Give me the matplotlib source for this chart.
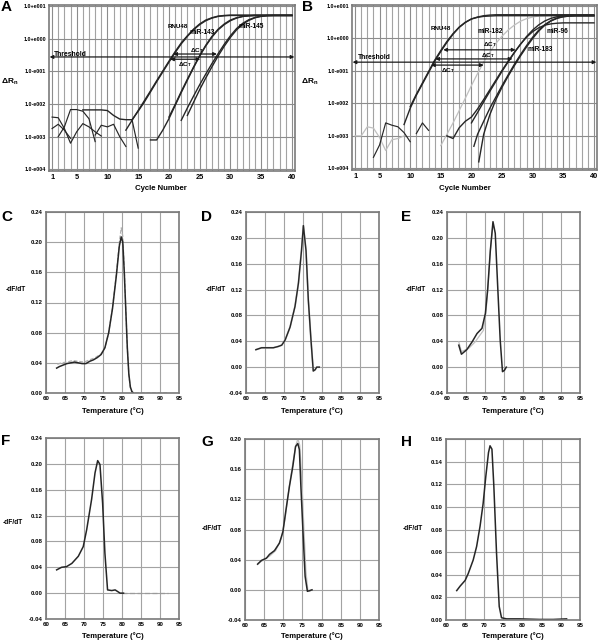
import numpy as np
import matplotlib
matplotlib.use("Agg")
import matplotlib.pyplot as plt
from matplotlib.ticker import NullLocator

plt.rcParams['font.family'] = ['Liberation Sans', 'DejaVu Sans']
plt.rcParams['font.weight'] = 'bold'
plt.rcParams['mathtext.fontset'] = 'custom'
plt.rcParams['mathtext.rm'] = 'Liberation Sans:bold'
plt.rcParams['mathtext.it'] = 'Liberation Sans:bold'
plt.rcParams['mathtext.bf'] = 'Liberation Sans:bold'

# ---------------- Data: amplification plots (log10 of delta Rn) ----------------
A_rnu48_1_c = list(range(6, 41))
A_rnu48_1_l = [-2.18, -2.18, -2.18, -2.18, -2.2, -2.35, -2.46, -2.48, -2.48, -2.22, -1.94, -1.63,
               -1.32, -1.02, -0.72, -0.43, -0.16, 0.07, 0.27, 0.43, 0.55, 0.63, 0.68, 0.7, 0.71,
               0.71, 0.71, 0.71, 0.71, 0.71, 0.71, 0.71, 0.71, 0.71, 0.71]
A_rnu48_2_c = list(range(13, 41))
A_rnu48_2_l = [-2.8, -2.5, -2.2, -1.9, -1.6, -1.29, -0.99, -0.69, -0.4, -0.13, 0.09, 0.29, 0.45,
               0.57, 0.64, 0.69, 0.71, 0.72, 0.72, 0.72, 0.72, 0.72, 0.72, 0.72, 0.72, 0.72, 0.72, 0.72]
A_mir143_1_c = list(range(17, 41))
A_mir143_1_l = [-3.1, -3.1, -2.8, -2.45, -2.05, -1.65, -1.27, -0.89, -0.53, -0.22, 0.05, 0.27,
                0.43, 0.55, 0.63, 0.68, 0.7, 0.71, 0.71, 0.71, 0.71, 0.71, 0.71, 0.71]
A_mir143_2_c = list(range(20, 41))
A_mir143_2_l = [-2.4, -2.02, -1.62, -1.24, -0.87, -0.52, -0.2, 0.07, 0.29, 0.45, 0.57, 0.64,
                0.68, 0.7, 0.71, 0.71, 0.71, 0.71, 0.71, 0.71, 0.71]
A_mir145_1_c = list(range(22, 41))
A_mir145_1_l = [-2.5, -2.12, -1.76, -1.41, -1.08, -0.76, -0.46, -0.17, 0.09, 0.31, 0.47, 0.58,
                0.65, 0.69, 0.71, 0.71, 0.71, 0.71, 0.71]
A_mir145_2_c = list(range(23, 41))
A_mir145_2_l = [-2.35, -1.95, -1.56, -1.2, -0.86, -0.53, -0.23, 0.04, 0.27, 0.44, 0.56, 0.64,
                0.68, 0.7, 0.71, 0.71, 0.71, 0.71]
A_noise = [
    ([1, 2, 3, 4, 5, 6, 7, 8, 9], [-2.4, -2.42, -2.75, -3.2, -2.85, -2.6, -2.7, -2.85, -2.98]),
    ([1, 2, 3, 4], [-2.75, -2.62, -2.8, -3.05]),
    ([2, 3, 4, 5, 6, 7, 8], [-3.0, -2.7, -2.17, -2.17, -2.22, -2.45, -3.15]),
    ([8, 9, 10, 11, 12, 13], [-2.95, -2.65, -2.7, -2.62, -3.0, -3.3]),
    ([14, 15], [-2.48, -3.35]),
]
A_threshold = -0.56

B_rnu48_1_c = list(range(9, 41))
B_rnu48_1_l = [-2.65, -2.15, -1.75, -1.4, -1.05, -0.7, -0.4, -0.12, 0.13, 0.34, 0.49, 0.6, 0.66,
               0.7, 0.72, 0.73, 0.73, 0.73, 0.73, 0.73, 0.73, 0.73, 0.73, 0.73, 0.73, 0.73, 0.73,
               0.73, 0.73, 0.73, 0.73, 0.73]
B_rnu48_2_c = list(range(10, 41))
B_rnu48_2_l = [-2.1, -1.72, -1.37, -1.02, -0.67, -0.37, -0.09, 0.15, 0.35, 0.5, 0.6, 0.65, 0.68,
               0.69, 0.7, 0.7, 0.7, 0.7, 0.7, 0.7, 0.7, 0.7, 0.7, 0.7, 0.7, 0.7, 0.7, 0.7, 0.7,
               0.7, 0.7]
B_mir182_c = list(range(15, 41))
B_mir182_l = [-3.3, -2.95, -2.6, -2.22, -1.84, -1.45, -1.08, -0.73, -0.42, -0.15, 0.07, 0.26,
              0.41, 0.53, 0.61, 0.66, 0.69, 0.7, 0.71, 0.71, 0.71, 0.71, 0.71, 0.71, 0.71, 0.71]
B_mir96_1_c = list(range(16, 41))
B_mir96_1_l = [-3.0, -3.08, -2.75, -2.55, -2.42, -2.17, -1.88, -1.58, -1.28, -0.98, -0.7, -0.43,
               -0.18, 0.04, 0.21, 0.33, 0.41, 0.45, 0.47, 0.48, 0.48, 0.48, 0.48, 0.48, 0.48]
B_mir96_2_c = list(range(20, 41))
B_mir96_2_l = [-2.6, -2.28, -1.95, -1.63, -1.32, -1.01, -0.72, -0.44, -0.18, 0.06, 0.26, 0.42,
               0.54, 0.62, 0.67, 0.7, 0.71, 0.71, 0.71, 0.71, 0.71]
B_mir183_1_c = [20.4] + list(range(21, 41))
B_mir183_1_l = [-3.32, -2.95, -2.55, -2.15, -1.8, -1.45, -1.12, -0.8, -0.5, -0.22, 0.04, 0.26,
                0.43, 0.55, 0.63, 0.67, 0.69, 0.7, 0.7, 0.7, 0.7]
B_mir183_2_c = [21.2] + list(range(22, 41))
B_mir183_2_l = [-3.8, -2.95, -2.35, -1.88, -1.5, -1.16, -0.84, -0.54, -0.26, 0.0, 0.23, 0.41,
                0.54, 0.62, 0.67, 0.69, 0.7, 0.7, 0.7, 0.7]
B_noise_dark = [
    ([4, 5, 6, 7, 8, 9, 10], [-3.66, -3.28, -2.6, -2.67, -2.72, -2.9, -3.18]),
    ([11, 12, 13], [-2.93, -2.6, -2.83]),
]
B_noise_gray = ([1, 2, 3, 4, 5, 6, 7, 8, 9], [-3.0, -3.0, -2.72, -2.76, -3.05, -3.45, -3.12, -3.08, -3.0])
B_threshold = -0.73

y_log_ticks = [1, 0, -1, -2, -3, -4]
y_log_labels = ["1.0+e001", "1.0+e000", "1.0-e001", "1.0-e002", "1.0-e003", "1.0-e004"]
cycle_ticks = [1, 5, 10, 15, 20, 25, 30, 35, 40]

# ---------------- Data: melt curves ----------------
C_T = [62.8, 63.5, 64.5, 65.5, 66.5, 67.5, 68.5, 69.5, 70.5, 71.5, 72.5, 73.5, 74.5, 75.5, 76.5,
       77.5, 78.5, 79.3, 79.8, 80.2, 80.6, 81.0, 81.4, 81.8, 82.2, 82.6, 83.0]
C_d = [0.033, 0.035, 0.037, 0.039, 0.040, 0.041, 0.040, 0.039, 0.039, 0.042, 0.044, 0.047, 0.051,
       0.060, 0.080, 0.112, 0.155, 0.195, 0.207, 0.200, 0.160, 0.110, 0.060, 0.025, 0.008, 0.002, 0.0]
C_g_T = [63.0, 64.0, 65.5, 67.0, 68.5, 70.0, 71.5, 73.0, 74.5, 75.5, 76.5, 77.5, 78.5, 79.3, 79.8,
         80.2, 80.6, 81.0, 81.4, 81.8, 82.2, 82.6, 83.0, 86.0, 89.0, 92.0]
C_g = [0.038, 0.040, 0.041, 0.043, 0.042, 0.041, 0.044, 0.047, 0.052, 0.060, 0.080, 0.113, 0.158,
       0.200, 0.219, 0.208, 0.165, 0.112, 0.060, 0.024, 0.007, 0.001, 0.0, 0.0, 0.0, 0.0]

D_T = [62.6, 64.1, 65.5, 67.2, 68.5, 69.4, 70.3, 71.6, 72.9, 73.8, 74.6, 75.1, 75.8, 76.4, 77.1,
       77.7, 78.2, 78.6, 79.3]
D_d = [0.027, 0.030, 0.030, 0.030, 0.032, 0.034, 0.042, 0.062, 0.094, 0.130, 0.180, 0.219, 0.180,
       0.104, 0.042, -0.006, -0.004, 0.0, 0.0]

E_T = [63.1, 63.4, 63.8, 65.2, 66.6, 67.9, 69.2, 70.1, 70.7, 71.4, 72.1, 72.7, 73.3, 74.0, 74.6,
       75.1, 75.6]
E_d = [0.034, 0.028, 0.020, 0.027, 0.039, 0.052, 0.060, 0.083, 0.120, 0.180, 0.225, 0.207, 0.130,
       0.042, -0.007, -0.005, 0.0]
E_g_T = [63.1, 63.8, 65.7, 67.4, 69.6, 70.3, 70.8, 71.4, 72.1]
E_g = [0.039, 0.024, 0.029, 0.039, 0.057, 0.088, 0.125, 0.180, 0.222]

F_T = [62.8, 64.1, 65.4, 66.8, 68.5, 69.8, 70.7, 72.0, 72.9, 73.6, 74.2, 74.9, 75.5, 76.2, 77.3,
       78.2, 79.5, 80.4]
F_d = [0.036, 0.040, 0.041, 0.046, 0.057, 0.072, 0.098, 0.145, 0.186, 0.205, 0.199, 0.139, 0.062,
       0.005, 0.004, 0.005, 0.0, 0.0]
F_g_T = [80.0, 92.0]
F_g = [0.0, 0.0]

G_T = [63.3, 64.3, 65.6, 66.4, 67.7, 69.0, 69.9, 70.7, 71.6, 72.5, 73.2, 73.8, 74.2, 74.6, 75.2,
       75.7, 76.3, 76.9, 77.5]
G_d = [0.034, 0.039, 0.042, 0.047, 0.052, 0.062, 0.077, 0.106, 0.137, 0.164, 0.190, 0.194, 0.186,
       0.137, 0.071, 0.018, -0.002, -0.001, 0.0]
G_g_T = [63.3, 65.0, 66.5, 68.0, 69.5, 70.5, 71.5, 72.5, 73.3, 73.8, 74.3, 74.8, 75.4, 75.9,
         76.4, 76.9, 77.4]
G_g = [0.035, 0.040, 0.045, 0.052, 0.068, 0.095, 0.135, 0.168, 0.192, 0.200, 0.192, 0.150, 0.080,
       0.025, 0.000, -0.002, 0.0]

H_T = [62.8, 63.7, 65.0, 65.8, 67.1, 68.0, 68.9, 69.7, 70.4, 71.1, 71.5, 72.0, 72.5, 73.2, 73.9,
       74.5, 75.8, 79.3, 84.5, 88.0, 91.5]
H_d = [0.026, 0.030, 0.035, 0.041, 0.053, 0.065, 0.083, 0.103, 0.127, 0.148, 0.154, 0.151, 0.118,
       0.059, 0.012, 0.002, 0.001, 0.001, 0.0005, 0.0005, 0.001]

melt_xticks = [60, 65, 70, 75, 80, 85, 90, 95]

# ---------------- Figure ----------------
W, H = 600, 642
fig = plt.figure(figsize=(6, 6.42), dpi=100)

DARK = '#262626'
LIGHT = '#c0c0c0'
GRID = '#a3a3a3'
FRAME = '#7a7a7a'


def ax_px(l, t, r, b):
    return fig.add_axes([l / W, 1 - b / H, (r - l) / W, (b - t) / H])


def txt(x, y, s, **kw):
    fig.text(x / W, 1 - y / H, s, **kw)


def style_frame(ax):
    for sp in ax.spines.values():
        sp.set_color(FRAME)
        sp.set_linewidth(1.2)
    ax.set_axisbelow(True)


def amp_panel(ax):
    ax.set_yscale('log')
    ax.set_xlim(0.5, 40.5)
    ax.set_ylim(10 ** -4.05, 10 ** 1.03)
    ax.set_xticks(cycle_ticks)
    ax.set_xticks(range(1, 41), minor=True)
    ax.set_xticklabels([str(c) for c in cycle_ticks], fontsize=5.3, fontweight='bold')
    ax.set_yticks([10.0 ** v for v in y_log_ticks])
    ax.set_yticklabels(y_log_labels, fontsize=3.9, fontweight='bold')
    ax.yaxis.set_minor_locator(NullLocator())
    ax.tick_params(which='both', length=0, pad=2)
    ax.grid(which='minor', axis='x', color=GRID, lw=0.8)
    ax.grid(which='major', axis='both', color='#8c8c8c', lw=0.8)
    style_frame(ax)


def L(c, l):
    return np.array(c, dtype=float), 10.0 ** np.array(l, dtype=float)


def darrow(ax, x1, x2, y, lw=0.9, ms=5):
    ax.annotate('', xy=(x2, y), xytext=(x1, y),
                arrowprops=dict(arrowstyle='<|-|>', color='#1a1a1a', lw=lw,
                                mutation_scale=ms, shrinkA=0, shrinkB=0))


# ---- Panel A ----
axA = ax_px(49, 5, 295, 171)
amp_panel(axA)
for c, l in A_noise:
    axA.plot(*L(c, l), color=DARK, lw=0.85)
for c, l in [(A_rnu48_1_c, A_rnu48_1_l), (A_rnu48_2_c, A_rnu48_2_l),
             (A_mir143_1_c, A_mir143_1_l), (A_mir143_2_c, A_mir143_2_l),
             (A_mir145_1_c, A_mir145_1_l), (A_mir145_2_c, A_mir145_2_l)]:
    axA.plot(*L(c, l), color=DARK, lw=1.0)
darrow(axA, 0.6, 40.4, 10 ** A_threshold, lw=0.9, ms=5)
axA.text(1.3, 10 ** -0.47, 'Threshold', fontsize=4.9, fontweight='bold', ha='left', va='center')
darrow(axA, 20.7, 27.8, 10 ** -0.47)
darrow(axA, 20.2, 25.1, 10 ** -0.63)
axA.text(24.6, 10 ** -0.36, 'ΔC$_\\mathrm{T}$', fontsize=4.6, ha='center', va='center')
axA.text(22.6, 10 ** -0.78, 'ΔC$_\\mathrm{T}$', fontsize=4.6, ha='center', va='center')
axA.text(21.4, 10 ** 0.36, 'RNU48', fontsize=4.5, ha='center', va='center')
axA.text(25.4, 10 ** 0.18, 'miR-143', fontsize=4.7, ha='center', va='center')
axA.text(33.4, 10 ** 0.36, 'miR-145', fontsize=4.7, ha='center', va='center')

# ---- Panel B ----
axB = ax_px(352, 5, 597, 170)
amp_panel(axB)
axB.plot(*L(*B_noise_gray), color=LIGHT, lw=0.9)
axB.plot(*L(B_mir182_c, B_mir182_l), color=LIGHT, lw=0.9)
for c, l in B_noise_dark:
    axB.plot(*L(c, l), color=DARK, lw=0.85)
for c, l in [(B_rnu48_1_c, B_rnu48_1_l), (B_rnu48_2_c, B_rnu48_2_l),
             (B_mir96_1_c, B_mir96_1_l), (B_mir96_2_c, B_mir96_2_l),
             (B_mir183_1_c, B_mir183_1_l), (B_mir183_2_c, B_mir183_2_l)]:
    axB.plot(*L(c, l), color=DARK, lw=1.0)
darrow(axB, 0.6, 40.4, 10 ** B_threshold, lw=0.9, ms=5)
axB.text(1.5, 10 ** -0.6, 'Threshold', fontsize=4.9, fontweight='bold', ha='left', va='center')
darrow(axB, 15.4, 27.2, 10 ** -0.35)
darrow(axB, 14.1, 26.7, 10 ** -0.63)
darrow(axB, 13.4, 22.0, 10 ** -0.82)
axB.text(23.0, 10 ** -0.2, 'ΔC$_\\mathrm{T}$', fontsize=4.6, ha='center', va='center')
axB.text(22.7, 10 ** -0.52, 'ΔC$_\\mathrm{T}$', fontsize=4.6, ha='center', va='center')
axB.text(16.2, 10 ** -0.98, 'ΔC$_\\mathrm{T}$', fontsize=4.6, ha='center', va='center')
axB.text(15.0, 10 ** 0.3, 'RNU48', fontsize=4.5, ha='center', va='center')
axB.text(23.1, 10 ** 0.2, 'miR-182', fontsize=4.7, ha='center', va='center')
axB.text(34.0, 10 ** 0.2, 'miR-96', fontsize=4.7, ha='center', va='center')
axB.text(31.2, 10 ** -0.35, 'miR-183', fontsize=4.7, ha='center', va='center')

for x0 in (0, 300):
    txt(x0 + 1, 82, 'ΔR$_\\mathrm{n}$', fontsize=6, ha='left', va='center')
txt(161, 188, 'Cycle Number', fontsize=5.6, ha='center', va='center')
txt(465, 189, 'Cycle Number', fontsize=5.6, ha='center', va='center')


# ---- Melt panels ----
def melt_panel(box, ylim, ystep):
    ax = ax_px(*box)
    ax.set_xlim(60, 95)
    ax.set_ylim(*ylim)
    ax.set_xticks(melt_xticks)
    ax.set_xticklabels([str(v) for v in melt_xticks], fontsize=4.4, fontweight='bold')
    yt = np.round(np.arange(ylim[0], ylim[1] + ystep / 2, ystep), 2)
    ax.set_yticks(yt)
    ax.set_yticklabels(['%.2f' % v for v in yt], fontsize=4.4, fontweight='bold')
    ax.tick_params(length=0, pad=2.2)
    ax.grid(True, color=GRID, lw=0.8)
    style_frame(ax)
    return ax


axC = melt_panel((46, 212, 179, 393), (0, 0.24), 0.04)
axC.plot(C_g_T, C_g, color='#b0b0b0', lw=0.9, ls=(0, (3, 1.5)))
axC.plot(C_T, C_d, color=DARK, lw=1.1)

axD = melt_panel((246, 212, 379, 393), (-0.04, 0.24), 0.04)
axD.plot(D_T, D_d, color=LIGHT, lw=1.3)
axD.plot(D_T, D_d, color=DARK, lw=1.0)

axE = melt_panel((447, 212, 580, 393), (-0.04, 0.24), 0.04)
axE.plot(E_g_T, E_g, color=LIGHT, lw=0.9)
axE.plot(E_T, E_d, color=DARK, lw=1.1)

axF = melt_panel((46, 438, 179, 619), (-0.04, 0.24), 0.04)
axF.plot(F_g_T, F_g, color='#9a9a9a', lw=0.9, ls=(0, (4, 2)))
axF.plot(F_T, F_d, color=DARK, lw=1.1)

axG = melt_panel((245, 439, 379, 620), (-0.04, 0.20), 0.04)
axG.plot(G_g_T, G_g, color=LIGHT, lw=0.9)
axG.plot(G_T, G_d, color=DARK, lw=1.1)

axH = melt_panel((446, 439, 580, 620), (0, 0.16), 0.02)
axH.plot(H_T, H_d, color=DARK, lw=1.1)

for (x, y) in [(6, 290), (206, 290), (406, 290), (3, 522), (202, 529), (403, 529)]:
    txt(x, y, '-dF/dT', fontsize=4.8, ha='left', va='center')
for (x, y) in [(113, 411), (312, 411), (513, 411), (113, 636), (312, 636), (513, 636)]:
    txt(x, y, 'Temperature (°C)', fontsize=5.5, ha='center', va='center')

# ---- Panel letters ----
for (x, y, s) in [(1, 7, 'A'), (302, 7, 'B'), (1, 217, 'C'), (201, 217, 'D'), (401, 217, 'E'),
                  (1, 441, 'F'), (201, 442, 'G'), (401, 442, 'H')]:
    txt(x, y, s, fontsize=11, fontweight='bold', ha='left', va='center')

fig.savefig('out.png', dpi=100)
